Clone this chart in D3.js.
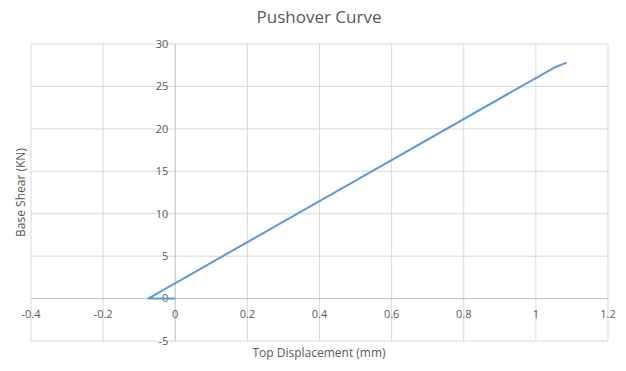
<!DOCTYPE html>
<html>
<head>
<meta charset="utf-8">
<script src="https://cdn.jsdelivr.net/npm/d3@7"></script>
<style>
  body { margin: 0; background: #fff; }
  svg { font-family: "Open Sans", "Liberation Sans", sans-serif; }
</style>
</head>
<body>
<div id="vis"></div>
<script>
// ── DATA ───────────────────────────────────────────────────────────────────────
const displacement = [0, -0.075, 1.05, 1.085];   // mm
const baseShear    = [0, 0, 27.2, 27.8];         // KN
const xTicks = [-0.4, -0.2, 0, 0.2, 0.4, 0.6, 0.8, 1, 1.2];
const yTicks = [-5, 0, 5, 10, 15, 20, 25, 30];

// ── CONFIG ─────────────────────────────────────────────────────────────────────
const width  = 626;
const height = 371;
const plot = { left: 31, right: 608, top: 44, bottom: 341 };

const svg = d3.select("#vis").append("svg")
    .attr("width", width)
    .attr("height", height);

const x = d3.scaleLinear([-0.4, 1.2], [plot.left, plot.right]);
const y = d3.scaleLinear([-5, 30], [plot.bottom, plot.top]);

// gridlines
svg.append("g")
  .selectAll("line")
  .data(xTicks.filter(d => d !== 0))
  .join("line")
    .attr("x1", d => x(d)).attr("x2", d => x(d))
    .attr("y1", plot.top).attr("y2", plot.bottom)
    .attr("stroke", "#d9d9d9");

svg.append("g")
  .selectAll("line")
  .data(yTicks.filter(d => d !== 0))
  .join("line")
    .attr("x1", plot.left).attr("x2", plot.right)
    .attr("y1", d => y(d)).attr("y2", d => y(d))
    .attr("stroke", "#d9d9d9");

// axes crossing at zero
svg.append("line")
    .attr("x1", x(0)).attr("x2", x(0))
    .attr("y1", plot.top).attr("y2", plot.bottom)
    .attr("stroke", "#bfbfbf");
svg.append("line")
    .attr("x1", plot.left).attr("x2", plot.right)
    .attr("y1", y(0)).attr("y2", y(0))
    .attr("stroke", "#bfbfbf");

// tick labels
svg.append("g")
    .attr("font-size", 11)
    .attr("fill", "#595959")
    .attr("text-anchor", "middle")
  .selectAll("text")
  .data(xTicks)
  .join("text")
    .attr("x", d => x(d))
    .attr("y", y(0) + 19)
    .text(d => d);

svg.append("g")
    .attr("font-size", 11)
    .attr("fill", "#595959")
    .attr("text-anchor", "end")
  .selectAll("text")
  .data(yTicks)
  .join("text")
    .attr("x", x(0) - 7)
    .attr("y", d => y(d))
    .attr("dy", "0.35em")
    .text(d => d);

// series
svg.append("path")
    .datum(d3.range(displacement.length))
    .attr("fill", "none")
    .attr("stroke", "#5b9bd5")
    .attr("stroke-width", 2)
    .attr("stroke-linejoin", "round")
    .attr("d", d3.line()
      .x(i => x(displacement[i]))
      .y(i => y(baseShear[i])));

// titles
svg.append("text")
    .attr("x", 319).attr("y", 23)
    .attr("text-anchor", "middle")
    .attr("font-size", 17)
    .attr("fill", "#595959")
    .text("Pushover Curve");

svg.append("text")
    .attr("x", 319).attr("y", 357)
    .attr("text-anchor", "middle")
    .attr("font-size", 12)
    .attr("fill", "#595959")
    .text("Top Displacement (mm)");

svg.append("text")
    .attr("transform", `translate(25,${(plot.top + plot.bottom) / 2}) rotate(-90)`)
    .attr("text-anchor", "middle")
    .attr("font-size", 12)
    .attr("fill", "#595959")
    .text("Base Shear (KN)");
</script>
</body>
</html>
